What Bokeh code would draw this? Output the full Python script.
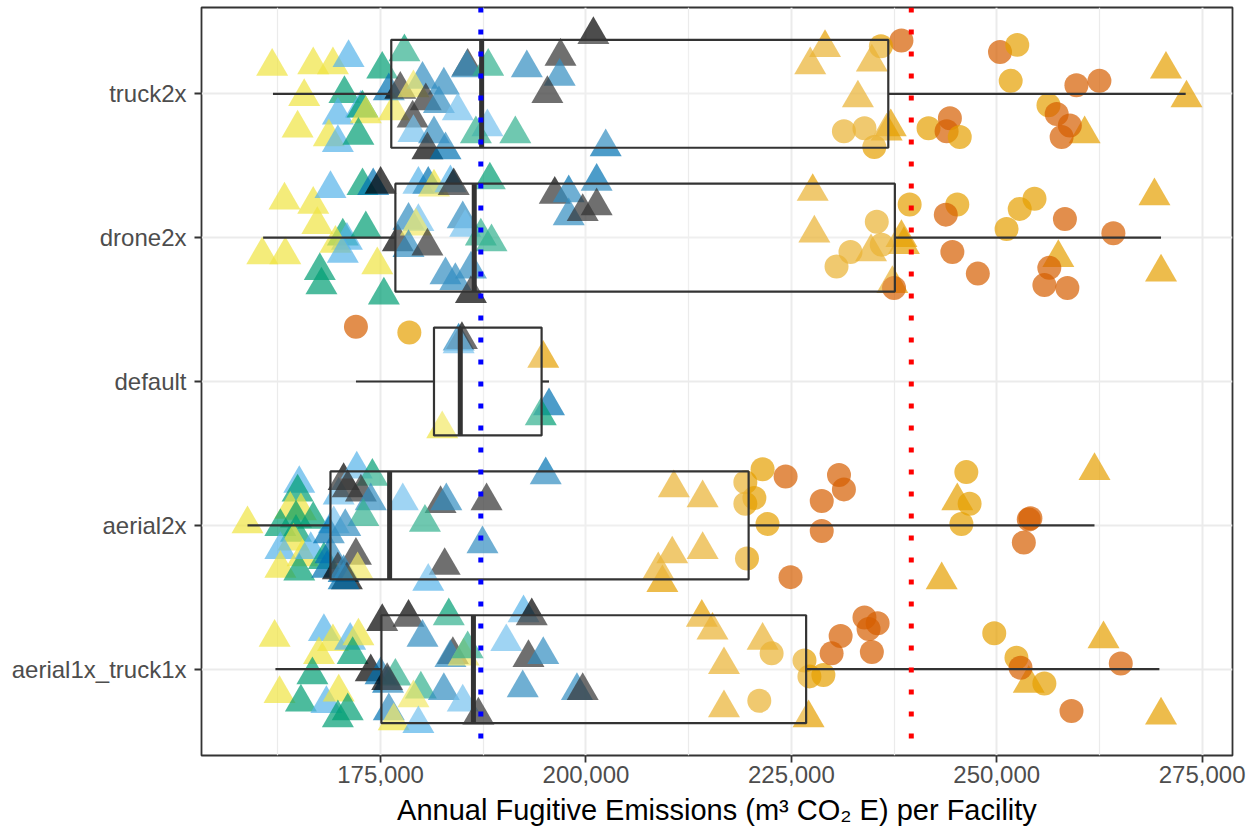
from bokeh.plotting import figure
from bokeh.models import Range1d, FixedTicker, NumeralTickFormatter, ColumnDataSource, Span
from bokeh.embed import file_html
from bokeh.resources import INLINE

# ---------------- data ----------------
categories = ["aerial1x_truck1x", "aerial2x", "default", "drone2x", "truck2x"]

# box statistics (bottom -> top order, same as categories)
whisker_low = [162200, 158800, 172000, 160700, 161900]
q1 = [175100, 168900, 181500, 176800, 176300]
median = [186300, 176100, 184700, 186400, 187300]
q3 = [226800, 219800, 194600, 237600, 236800]
whisker_high = [269800, 261900, 195500, 270000, 273000]

blue_line = 187200
red_line = 239600

# point codes: upper case = triangle, lower case = circle
# Y yellow, G green, L sky blue, B blue, K black, O orange, V vermillion
truck2x_x = [161800, 166800, 169200, 171100, 165700, 164900, 170600, 175200, 177900, 169800,
             172600, 172800, 173200, 168700, 169800, 172300, 176600, 176000, 177400, 180100,
             179000, 182700, 180500, 178900, 182100, 184400, 179000, 181500, 180700, 182900,
             188000, 186600, 191400, 185600, 185500, 188100, 192800, 196900, 196800, 195300,
             200900, 202400,
             229100, 227300, 234800, 233100, 237100, 236600, 270600, 273100, 260700,
             238400, 235900, 250400, 252500, 251700, 259700, 262500, 256300, 257300, 258900,
             257900, 231400, 233900, 235100, 241700, 244300, 243900, 245500]
truck2x_jitter = [0.19, 0.20, 0.20, 0.25, -0.02, -0.24, 0.00, 0.17, 0.29, -0.15,
                  -0.10, -0.10, -0.14, -0.30, -0.34, -0.29, -0.12, 0.02, 0.03, 0.10,
                  0.04, 0.06, -0.05, -0.17, -0.07, -0.12, -0.27, -0.28, -0.39, -0.39,
                  -0.23, -0.28, -0.28, 0.19, 0.18, 0.19, 0.18, 0.26, 0.12, 0.00,
                  0.41, -0.37,
                  0.32, 0.20, 0.22, -0.03, -0.23, -0.26, 0.17, -0.03, -0.28,
                  0.37, 0.33, 0.29, 0.34, 0.09, 0.06, 0.09, -0.08, -0.14, -0.22,
                  -0.30, -0.26, -0.24, -0.37, -0.24, -0.17, -0.26, -0.30]
truck2x_code = "YYYLYYGGGLLGYYLGYBKBYBKKBLLBKBLGGKBGBKBKKB" + "OOOOOOOOO" + "vovoovvovvvoooovvo"

drone2x_x = [163300, 166800, 168900, 167300, 172800, 174100, 175000, 170400, 170900, 173200,
             169500, 170400, 160600, 163400, 167600, 167800, 174600, 175400, 177100, 178400,
             179600, 179300, 178400, 180700, 179600, 180800, 181500, 183500, 183900, 185000,
             185300, 187200, 188500, 188300, 182900, 184100, 186000, 186000, 196200, 197900,
             201300, 197900, 199600, 201300,
             227600, 227800, 234700, 238400, 238700, 237300, 269200, 257500, 270000,
             235400, 239400, 245200, 243800, 232200, 230500, 236000, 244600, 247700, 251200,
             252800, 254600, 258300, 264200, 256400, 255800, 258600, 237500]
drone2x_jitter = [0.26, 0.23, 0.34, 0.09, 0.36, 0.36, 0.37, 0.01, -0.02, 0.06,
                  -0.04, -0.11, -0.12, -0.12, -0.23, -0.33, -0.19, -0.40, -0.03, 0.12,
                  0.11, 0.08, -0.07, -0.06, 0.37, 0.37, 0.35, 0.38, 0.36, 0.13,
                  0.07, 0.01, -0.03, 0.40, -0.26, -0.30, -0.22, -0.39, 0.30, 0.31,
                  0.39, 0.15, 0.18, 0.22,
                  0.32, 0.03, -0.10, 0.00, -0.05, -0.32, 0.29, -0.14, -0.24,
                  0.11, 0.23, 0.23, 0.16, -0.10, -0.20, -0.05, -0.10, -0.25, 0.06,
                  0.20, 0.27, 0.13, 0.03, -0.21, -0.33, -0.35, -0.35]
drone2x_code = "YYLYGBKGLGYLYYGGYGKBLYBKLBYLKBLGGGBBBKKBBBKK" + "OOOOOOOOO" + "ooovooovvooovvvvvv"

default_x = [172000, 178500, 184500, 184900, 184500, 194800, 195500, 194500, 182500]
default_jitter = [0.38, 0.34, 0.28, 0.29, 0.26, 0.16, -0.17, -0.24, -0.33]
default_code = "voBKLOBGY"

aerial2x_x = [158800, 165100, 164900, 164000, 165300, 164700, 166800, 162800, 164700, 164400,
              162800, 165500, 162800, 165100, 166500, 168100, 169300, 169900, 170500, 172100,
              174000, 171000, 172600, 173800, 172900, 170700, 168700, 168900, 172000, 168500,
              169800, 170500, 172200, 170900, 170500, 177700, 182300, 183000, 180400, 187900,
              187400, 182800, 180800, 195100,
              210700, 214200, 210500, 214200, 208800, 209300, 245200, 261900, 243300,
              219400, 221500, 224300, 220500, 219400, 222100, 219600, 224900, 230800, 231400,
              228700, 228700, 246300, 246700, 245700, 253900, 254100, 253300]
aerial2x_jitter = [0.01, 0.29, 0.23, 0.11, 0.10, 0.05, 0.04, -0.01, -0.05, -0.11,
                   -0.17, -0.22, -0.30, -0.32, -0.17, -0.24, 0.01, 0.21, 0.31, 0.39,
                   0.34, 0.26, 0.23, 0.17, 0.06, -0.01, -0.06, -0.20, -0.21, -0.30,
                   -0.31, -0.33, -0.31, -0.38, -0.38, 0.17, 0.15, 0.17, 0.02, 0.17,
                   -0.13, -0.28, -0.39, 0.35,
                   0.26, 0.19, -0.20, -0.17, -0.31, -0.40, 0.17, 0.38, -0.38,
                   0.30, 0.39, 0.34, 0.19, 0.15, 0.01, -0.23, -0.36, 0.35, 0.25,
                   0.17, -0.04, 0.37, 0.15, 0.01, 0.04, 0.05, -0.12]
aerial2x_code = "YLGYYGGGGYLYYGLGLLKLGKKBGBBBKBKBYKBLKBGKBKLB" + "OOOOOOOOO" + "oovoooovvvvvooovvv"

aerial1x_truck1x_x = [162100, 168100, 169200, 171300, 172300, 167500, 171600, 166700, 162700, 165300,
                      168400, 169900, 171000, 169800, 173800, 175000, 176800, 175900, 175800, 179900,
                      179000, 182700, 185000, 176000, 176600, 179600, 175200, 178400, 183300, 180100,
                      183800, 183500, 185100, 185600, 186900, 192400, 193400, 190300, 193000, 194800,
                      192300, 198900, 199600,
                      214100, 215400, 221500, 216800, 216800, 227100, 263000, 270000, 253900,
                      222600, 221100, 226600, 227200, 228900, 229900, 231000, 233900, 235500, 234400,
                      234800, 249700, 252400, 252900, 255800, 259100, 265100]
aerial1x_truck1x_jitter = [0.22, 0.26, 0.19, 0.20, 0.23, 0.10, 0.10, -0.04, -0.17, -0.23,
                           -0.24, -0.16, -0.29, -0.34, -0.02, -0.04, -0.05, -0.10, -0.08, -0.14,
                           -0.20, -0.15, -0.23, -0.29, -0.36, -0.38, 0.33, 0.36, 0.37, 0.22,
                           0.10, 0.08, 0.09, 0.14, -0.32, 0.39, 0.37, 0.19, 0.08, 0.10,
                           -0.13, -0.15, -0.15,
                           0.36, 0.27, 0.20, 0.03, -0.27, -0.34, 0.21, -0.32, -0.10,
                           0.11, -0.22, 0.06, -0.05, -0.04, 0.11, 0.23, 0.36, 0.32, 0.28,
                           0.12, 0.25, 0.08, 0.01, -0.10, -0.29, 0.04]
aerial1x_truck1x_code = "YLYLYYGGYGLYGGKBGBKGYBLBYLKKGBKBYGKLKLKBBBK" + "OOOOOOOOO" + "ooooovvvvvvoovovv"

palette = {"Y": "#F0E442", "G": "#009E73", "L": "#56B4E9", "B": "#0072B2",
           "K": "#000000", "O": "#E69F00", "V": "#D55E00"}

point_sets = [
    (aerial1x_truck1x_x, aerial1x_truck1x_jitter, aerial1x_truck1x_code),
    (aerial2x_x, aerial2x_jitter, aerial2x_code),
    (default_x, default_jitter, default_code),
    (drone2x_x, drone2x_jitter, drone2x_code),
    (truck2x_x, truck2x_jitter, truck2x_code),
]

# ---------------- figure ----------------
FONT = "Liberation Sans"
p = figure(width=1250, height=835,
           x_range=Range1d(153200, 278700), y_range=Range1d(0.4, 5.6),
           output_backend="svg", toolbar_location=None,
           min_border_left=201, min_border_right=18, min_border_top=7, min_border_bottom=80)
p.background_fill_color = "white"
p.border_fill_color = "white"
p.outline_line_color = "#333333"
p.outline_line_width = 1.8
p.outline_line_alpha = 1.0

# grids
p.xaxis.ticker = FixedTicker(ticks=[175000, 200000, 225000, 250000, 275000],
                             minor_ticks=[162500, 187500, 212500, 237500, 262500])
p.yaxis.ticker = FixedTicker(ticks=[1, 2, 3, 4, 5], minor_ticks=[])
p.xgrid.grid_line_color = "#EBEBEB"
p.xgrid.grid_line_width = 2
p.xgrid.minor_grid_line_color = "#EBEBEB"
p.xgrid.minor_grid_line_width = 1.2
p.ygrid.grid_line_color = "#EBEBEB"
p.ygrid.grid_line_width = 2

# axes
p.xaxis.formatter = NumeralTickFormatter(format="0,0")
p.yaxis.major_label_overrides = {i + 1: c for i, c in enumerate(categories)}
for ax in (p.xaxis[0], p.yaxis[0]):
    ax.axis_line_color = None
    ax.major_tick_in = 0
    ax.major_tick_out = 7
    ax.major_tick_line_color = "#333333"
    ax.major_tick_line_width = 1.8
    ax.minor_tick_line_color = None
    ax.major_label_text_font = FONT
    ax.major_label_text_font_size = "24px"
    ax.major_label_text_color = "#4D4D4D"
p.xaxis.major_label_standoff = 3
p.yaxis.major_label_standoff = 8
p.xaxis.axis_label = "Annual Fugitive Emissions (m³ CO₂ E) per Facility"
p.xaxis.axis_label_text_font = FONT
p.xaxis.axis_label_text_font_size = "29px"
p.xaxis.axis_label_text_font_style = "normal"
p.xaxis.axis_label_text_color = "#000000"
p.xaxis.axis_label_standoff = 8

# points
xs, ys, cols, marks, sizes = [], [], [], [], []
for i, (vx, vj, vc) in enumerate(point_sets):
    for x, j, c in zip(vx, vj, vc):
        xs.append(x)
        ys.append(i + 1 + j)
        cols.append(palette[c.upper()])
        circ = c.islower()
        marks.append("circle" if circ else "triangle")
        sizes.append(24 if circ else 32)
src = ColumnDataSource(dict(x=xs, y=ys, color=cols, marker=marks, size=sizes))
p.scatter("x", "y", source=src, marker="marker", size="size",
          fill_color="color", fill_alpha=0.7, line_color=None)

# boxplots (drawn over points)
pos = [i + 1 for i in range(len(categories))]
half = 0.375
p.segment(x0=whisker_low, x1=q1, y0=pos, y1=pos, line_color="#333333", line_width=2.2)
p.segment(x0=q3, x1=whisker_high, y0=pos, y1=pos, line_color="#333333", line_width=2.2)
p.quad(left=q1, right=q3, bottom=[y - half for y in pos], top=[y + half for y in pos],
       fill_color="white", fill_alpha=0.2, line_color="#333333", line_width=2.2)
p.segment(x0=median, x1=median, y0=[y - half for y in pos], y1=[y + half for y in pos],
          line_color="#333333", line_width=5)

# reference lines
p.add_layout(Span(location=blue_line, dimension="height", line_color="#0000FF",
                  line_width=5, line_dash="5 17"))
p.add_layout(Span(location=red_line, dimension="height", line_color="#FF0000",
                  line_width=5, line_dash="5 17"))

open("out.html", "w").write(file_html(p, INLINE))
